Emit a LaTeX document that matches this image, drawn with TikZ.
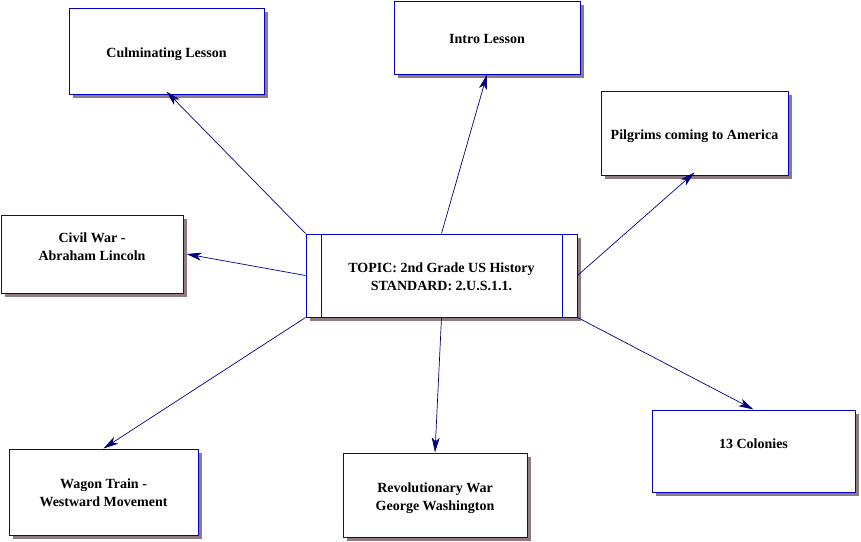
\documentclass[tikz,border=0pt]{standalone}
\usepackage{fontspec}
\setmainfont{Liberation Serif}
\usetikzlibrary{arrows.meta}

\definecolor{boxblue}{HTML}{0000C8}
\definecolor{linknavy}{HTML}{000080}
\definecolor{shade}{HTML}{8E7C80}

%box text, raised by #1
\newcommand{\boxtext}[2][-6pt]{\raisebox{#1}[0pt][0pt]{\begin{tabular}{@{}c@{}}#2\end{tabular}}}

\tikzset{
  box/.style={draw=boxblue,line width=1pt,fill=white,inner sep=0pt,
    font=\fontsize{14}{18}\selectfont\bfseries,
    preaction={fill=shade,transform canvas={xshift=4pt,yshift=-4pt}}},
  link/.style={draw=linknavy,line width=0.7pt,-{Stealth[length=15pt,width=8pt,inset=4pt]}}
}

\begin{document}
\begin{tikzpicture}[x=1pt,y=-1pt]
\useasboundingbox (0,0) rectangle (861,541);

%topic in the middle
\node[box,minimum width=271pt,minimum height=83pt] (topic) at (441.5,275.5)
  {\boxtext{TOPIC: 2nd Grade US History\\STANDARD: 2.U.S.1.1.}};
\draw[boxblue,line width=1pt] ([xshift=16pt]topic.north west) -- ([xshift=16pt]topic.south west);
\draw[boxblue,line width=1pt] ([xshift=-15pt]topic.north east) -- ([xshift=-15pt]topic.south east);

%lessons round it
\node[box,minimum width=195pt,minimum height=86pt] (cul) at (166.5,51) {\boxtext{Culminating Lesson}};
\node[box,minimum width=186pt,minimum height=73pt] (intro) at (487,37.5) {\boxtext{Intro Lesson}};
\node[box,minimum width=187pt,minimum height=84pt] (pilg) at (694.5,133) {\boxtext{Pilgrims coming to America}};
\node[box,minimum width=182pt,minimum height=78pt] (civil) at (92,254) {\boxtext[2.5pt]{Civil War -\\Abraham Lincoln}};
\node[box,minimum width=189pt,minimum height=86pt] (wagon) at (103.5,492) {\boxtext[-5pt]{Wagon Train -\\Westward Movement}};
\node[box,minimum width=184pt,minimum height=84pt] (rev) at (435,495) {\boxtext{Revolutionary War\\George Washington}};
\node[box,minimum width=203pt,minimum height=82pt] (col) at (753.5,451) {\boxtext[2.5pt]{13 Colonies}};

%arrows
\draw[link] (topic.north west) -- ([yshift=3pt]cul.south);
\draw[link] (topic.north) -- (intro.south);
\draw[link] (topic.east) -- ([yshift=3pt]pilg.south);
\draw[link] (topic.west) -- ([xshift=3pt]civil.east);
\draw[link] (topic.south west) -- (wagon.north);
\draw[link] (topic.south) -- (rev.north);
\draw[link] (topic.south east) -- (col.north);

\end{tikzpicture}
\end{document}
